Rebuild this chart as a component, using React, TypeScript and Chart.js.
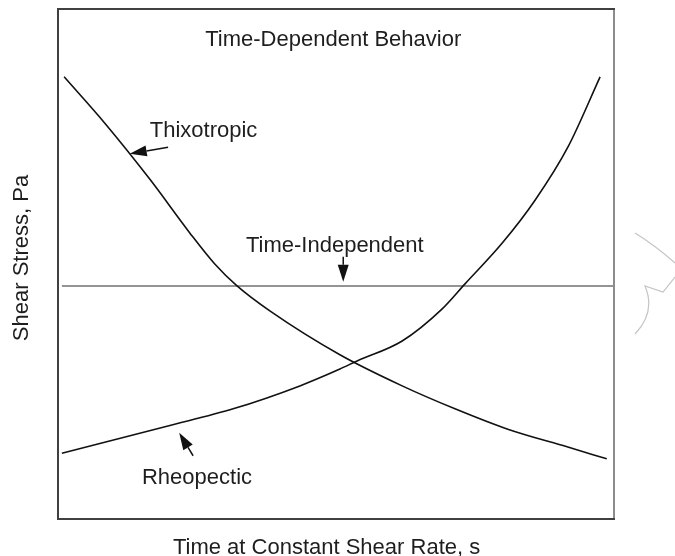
import React, { useEffect, useRef } from "react";
import { Chart, registerables } from "chart.js";

Chart.register(...registerables);

// Time (relative units across the plot) and shear stress (relative units)
const thixoTime = [1.1, 8.5, 16.6, 23.7, 28.2, 32.2, 38.1, 50.7, 61.9, 71.4, 80.9, 91.7, 98.7];
const thixoStress = [86.7, 77.5, 66.5, 56.1, 50.0, 45.7, 40.8, 32.2, 26.1, 21.6, 17.6, 14.1, 11.8];

const rheoTime = [0.7, 19.6, 31.5, 43.5, 50.7, 53.8, 61.9, 69.1, 73.2, 79.9, 85.8, 91.7, 97.5];
const rheoStress = [12.9, 18.2, 21.6, 26.1, 29.4, 31.0, 34.9, 41.2, 46.1, 54.1, 62.5, 72.9, 86.7];

const indepTime = [0.7, 100];
const indepStress = [45.7, 45.7];

const titleText = "Time-Dependent Behavior";
const xLabel = "Time at Constant Shear Rate, s";
const yLabel = "Shear Stress, Pa";

// annotation labels: [text, x, baseline y] in data units
const labels: [string, number, number][] = [
  ["Thixotropic", 16.5, 74.9],
  ["Time-Independent", 33.8, 52.4],
  ["Rheopectic", 15.1, 6.9],
];
// arrows: [tailX, tailY, tipX, tipY] in data units
const arrows: [number, number, number, number][] = [
  [19.8, 72.9, 12.9, 71.6],
  [51.3, 51.4, 51.3, 46.5],
  [24.3, 12.4, 21.8, 16.9],
];

const FONT = '22px "Liberation Sans", Arial, sans-serif';
const TEXT_COLOR = "#1e1e1e";

const toPts = (xs: number[], ys: number[]) => xs.map((x, i) => ({ x, y: ys[i] }));

const decorPlugin = {
  id: "decor",
  afterDatasetsDraw(chart: any) {
    const { ctx, chartArea: a, scales } = chart;
    const xs = scales.x;
    const ys = scales.y;
    ctx.save();
    // frame
    ctx.lineWidth = 2;
    ctx.strokeStyle = "#404040";
    ctx.beginPath();
    ctx.moveTo(a.right + 1, a.top);
    ctx.lineTo(a.left, a.top);
    ctx.lineTo(a.left, a.bottom);
    ctx.lineTo(a.right + 1, a.bottom);
    ctx.stroke();
    ctx.strokeStyle = "#8c8c8c";
    ctx.beginPath();
    ctx.moveTo(a.right, a.top + 1);
    ctx.lineTo(a.right, a.bottom - 1);
    ctx.stroke();

    // title
    ctx.fillStyle = TEXT_COLOR;
    ctx.font = FONT;
    ctx.textBaseline = "alphabetic";
    ctx.textAlign = "center";
    ctx.fillText(titleText, xs.getPixelForValue(49.5), ys.getPixelForValue(92.7));

    // annotation labels
    ctx.textAlign = "left";
    labels.forEach(([t, x, y]) => {
      ctx.fillText(t, xs.getPixelForValue(x), ys.getPixelForValue(y));
    });

    // arrows
    ctx.strokeStyle = "#111";
    ctx.fillStyle = "#111";
    ctx.lineWidth = 1.5;
    arrows.forEach(([x0, y0, x1, y1]) => {
      const px0 = xs.getPixelForValue(x0);
      const py0 = ys.getPixelForValue(y0);
      const px1 = xs.getPixelForValue(x1);
      const py1 = ys.getPixelForValue(y1);
      const ang = Math.atan2(py1 - py0, px1 - px0);
      const hl = 17;
      const hw = 5.5;
      const bx = px1 - hl * Math.cos(ang);
      const by = py1 - hl * Math.sin(ang);
      ctx.beginPath();
      ctx.moveTo(px0, py0);
      ctx.lineTo(bx, by);
      ctx.stroke();
      ctx.beginPath();
      ctx.moveTo(px1, py1);
      ctx.lineTo(bx + hw * Math.sin(ang), by - hw * Math.cos(ang));
      ctx.lineTo(bx - hw * Math.sin(ang), by + hw * Math.cos(ang));
      ctx.closePath();
      ctx.fill();
    });

    // axis titles
    ctx.fillStyle = TEXT_COLOR;
    ctx.textAlign = "center";
    ctx.fillText(xLabel, xs.getPixelForValue(48.3), a.bottom + 35);
    ctx.save();
    ctx.translate(a.left - 36, (a.top + a.bottom) / 2 - 6);
    ctx.rotate(-Math.PI / 2);
    ctx.textBaseline = "middle";
    ctx.fillText(yLabel, 0, 0);
    ctx.restore();

    // faint watermark stroke at the right margin
    ctx.strokeStyle = "#c4c4c4";
    ctx.lineWidth = 1.2;
    ctx.beginPath();
    ctx.moveTo(a.right + 21, 233);
    ctx.quadraticCurveTo(a.right + 42, 246, a.right + 61, 263);
    ctx.stroke();
    ctx.beginPath();
    ctx.moveTo(a.right + 61, 277);
    ctx.lineTo(a.right + 49, 292);
    ctx.lineTo(a.right + 31, 286);
    ctx.quadraticCurveTo(a.right + 42, 312, a.right + 21, 334);
    ctx.stroke();
    ctx.restore();
  },
};

export default function App() {
  const ref = useRef<HTMLCanvasElement>(null);
  useEffect(() => {
    if (!ref.current) return;
    const chart = new Chart(ref.current, {
      type: "line",
      data: {
        datasets: [
          {
            label: "Thixotropic",
            data: toPts(thixoTime, thixoStress),
            borderColor: "#111",
            borderWidth: 1.6,
            pointRadius: 0,
            cubicInterpolationMode: "monotone",
          },
          {
            label: "Rheopectic",
            data: toPts(rheoTime, rheoStress),
            borderColor: "#111",
            borderWidth: 1.6,
            pointRadius: 0,
            cubicInterpolationMode: "monotone",
          },
          {
            label: "Time-Independent",
            data: toPts(indepTime, indepStress),
            borderColor: "#707070",
            borderWidth: 1.6,
            pointRadius: 0,
          },
        ],
      },
      options: {
        animation: false,
        responsive: false,
        events: [],
        layout: { padding: { left: 58, top: 9, right: 61, bottom: 37 } },
        plugins: { legend: { display: false }, tooltip: { enabled: false }, title: { display: false } },
        scales: {
          x: { type: "linear", min: 0, max: 100, display: false },
          y: { type: "linear", min: 0, max: 100, display: false },
        },
      },
      plugins: [decorPlugin],
    });
    return () => chart.destroy();
  }, []);
  return (
    <div style={{ position: "absolute", left: 0, top: 0, width: 675, height: 556, background: "#fff" }}>
      <canvas ref={ref} width={675} height={556} style={{ display: "block" }} />
    </div>
  );
}
